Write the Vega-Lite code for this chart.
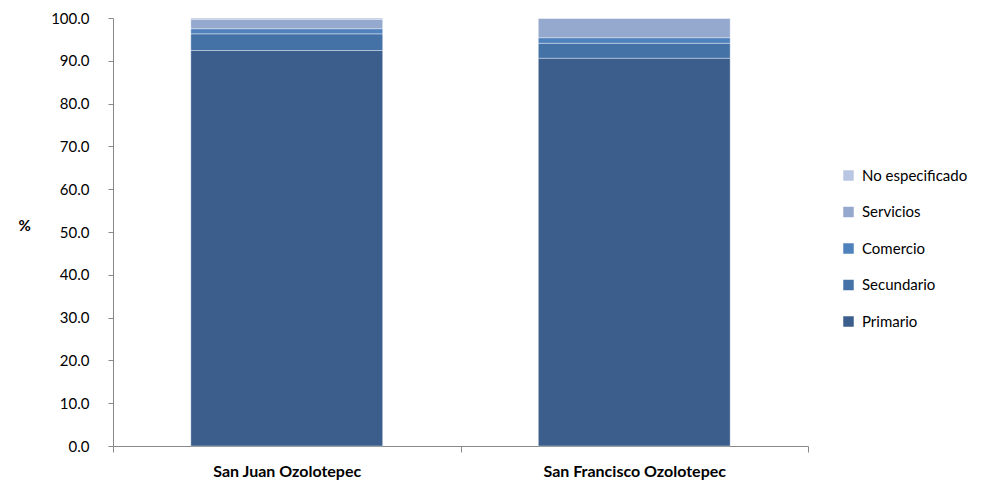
{
  "$schema": "https://vega.github.io/schema/vega-lite/v6.json",
  "autosize": "none",
  "width": 695,
  "height": 428,
  "padding": {"left": 113, "top": 18, "right": 179, "bottom": 37},
  "background": "white",
  "config": {"view": {"stroke": null}, "font": "Lato"},
  "data": {"values": [
    {"municipio": "San Juan Ozolotepec", "sector": "Primario", "o": 1, "pct": 92.4},
    {"municipio": "San Juan Ozolotepec", "sector": "Secundario", "o": 2, "pct": 3.9},
    {"municipio": "San Juan Ozolotepec", "sector": "Comercio", "o": 3, "pct": 1.2},
    {"municipio": "San Juan Ozolotepec", "sector": "Servicios", "o": 4, "pct": 2.2},
    {"municipio": "San Juan Ozolotepec", "sector": "No especificado", "o": 5, "pct": 0.3},
    {"municipio": "San Francisco Ozolotepec", "sector": "Primario", "o": 1, "pct": 90.6},
    {"municipio": "San Francisco Ozolotepec", "sector": "Secundario", "o": 2, "pct": 3.5},
    {"municipio": "San Francisco Ozolotepec", "sector": "Comercio", "o": 3, "pct": 1.3},
    {"municipio": "San Francisco Ozolotepec", "sector": "Servicios", "o": 4, "pct": 4.5},
    {"municipio": "San Francisco Ozolotepec", "sector": "No especificado", "o": 5, "pct": 0.1}
  ]},
  "mark": {"type": "bar", "width": {"band": 0.552}, "stroke": "#ffffff", "strokeOpacity": 0.45, "strokeWidth": 0.8},
  "encoding": {
    "x": {
      "field": "municipio", "type": "nominal", "sort": null,
      "scale": {"paddingInner": 0, "paddingOuter": 0},
      "axis": {"title": null, "labelAngle": 0, "tickBand": "extent", "labelFont": "Lato", "labelFontSize": 16, "labelFontWeight": "bold", "labelColor": "#000000", "labelPadding": 11, "labelLimit": 500, "labelOverlap": false, "domainColor": "#888888", "tickColor": "#888888", "tickSize": 6}
    },
    "y": {
      "field": "pct", "type": "quantitative", "stack": "zero",
      "scale": {"domain": [0, 100], "nice": false},
      "axis": {"title": "%", "titleAngle": 0, "titleX": -95, "titleY": 207, "titleAlign": "left", "titleBaseline": "middle", "titleFontSize": 15, "titleFontWeight": "bold", "titleColor": "#000000", "values": [0,10,20,30,40,50,60,70,80,90,100], "format": ".1f", "grid": false, "labelFontSize": 15, "labelColor": "#000000", "labelPadding": 19, "domainColor": "#888888", "tickColor": "#888888", "tickSize": 5}
    },
    "color": {
      "field": "sector", "type": "nominal",
      "scale": {"domain": ["No especificado", "Servicios", "Comercio", "Secundario", "Primario"], "range": ["#B9C6E2", "#95A8CE", "#4F81BD", "#4472A6", "#3B5E8C"]},
      "legend": {"title": null, "orient": "none", "legendX": 728, "legendY": 150, "symbolType": "square", "symbolSize": 110, "symbolStrokeWidth": 0, "labelFontSize": 15, "labelColor": "#000000", "rowPadding": 20.5, "labelOffset": 6, "labelLimit": 300}
    },
    "order": {"field": "o", "type": "quantitative", "sort": "ascending"}
  }
}
